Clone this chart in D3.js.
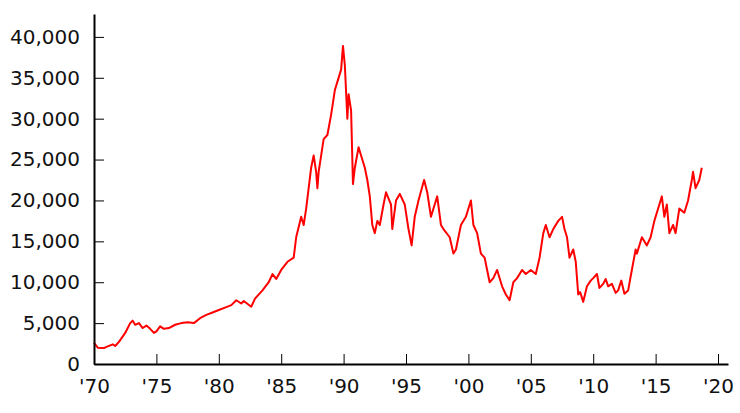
<!DOCTYPE html>
<html><head><meta charset="utf-8">
<script src="https://cdn.jsdelivr.net/npm/d3@7"></script>
<style>body{margin:0;background:#fff}</style>
</head><body><svg id="chart" width="740" height="413"></svg>
<script>
// year (decimal) and index level
var years = [1970.0,1970.3,1970.8,1971.0,1971.5,1971.7,1972.0,1972.5,1972.9,1973.1,1973.3,1973.6,1973.9,1974.2,1974.5,1974.8,1975.0,1975.3,1975.6,1976.0,1976.5,1977.0,1977.5,1978.0,1978.5,1979.0,1979.5,1980.0,1980.5,1981.0,1981.4,1981.8,1982.0,1982.6,1982.9,1983.5,1984.0,1984.3,1984.6,1985.0,1985.5,1986.0,1986.2,1986.6,1986.8,1987.0,1987.4,1987.6,1987.8,1987.9,1988.0,1988.4,1988.7,1989.0,1989.3,1989.5,1989.8,1989.95,1990.1,1990.3,1990.4,1990.6,1990.75,1990.9,1991.2,1991.4,1991.7,1991.9,1992.1,1992.3,1992.5,1992.7,1992.9,1993.2,1993.4,1993.8,1993.9,1994.2,1994.5,1994.9,1995.2,1995.45,1995.7,1996.0,1996.45,1996.7,1997.0,1997.3,1997.5,1997.8,1998.0,1998.5,1998.8,1999.0,1999.4,1999.8,2000.2,2000.4,2000.7,2001.0,2001.3,2001.7,2002.0,2002.3,2002.7,2003.0,2003.3,2003.6,2003.9,2004.3,2004.6,2005.0,2005.4,2005.7,2006.0,2006.2,2006.5,2006.8,2007.2,2007.5,2007.7,2007.9,2008.1,2008.4,2008.6,2008.8,2008.95,2009.2,2009.5,2009.8,2010.0,2010.3,2010.5,2010.8,2011.0,2011.2,2011.5,2011.8,2012.0,2012.25,2012.5,2012.8,2013.0,2013.4,2013.5,2013.9,2014.3,2014.6,2014.9,2015.3,2015.5,2015.7,2015.9,2016.1,2016.4,2016.6,2016.9,2017.3,2017.6,2017.9,2018.0,2018.2,2018.5,2018.7];
var values = [2600,2000,1950,2100,2400,2200,2700,3800,5000,5300,4800,5000,4400,4700,4300,3800,4000,4600,4300,4400,4800,5000,5100,5000,5600,6000,6300,6600,6900,7200,7800,7400,7700,7000,8000,9000,10000,11000,10400,11500,12500,13000,15500,18000,17000,19000,24000,25500,23500,21500,23500,27500,28000,30500,33500,34500,36000,38900,36500,30000,33000,31000,22000,24000,26500,25500,24000,22500,20500,17000,16000,17500,17000,19500,21000,19500,16500,20000,20800,19500,16500,14500,18000,20000,22500,21000,18000,19500,20500,17000,16500,15500,13500,14000,17000,18000,20000,17000,16000,13500,13000,10000,10500,11500,9500,8500,7800,10000,10500,11500,11000,11500,11000,13000,16000,17000,15500,16500,17500,18000,16500,15500,13000,14000,12500,8500,8800,7600,9500,10200,10500,11000,9300,9800,10400,9500,9800,8700,9000,10200,8600,9000,10700,14000,13500,15500,14500,15500,17500,19500,20500,18000,19500,16000,17000,16000,19000,18500,20000,22500,23500,21500,22500,24000];
var xTicks = [1970,1975,1980,1985,1990,1995,2000,2005,2010,2015,2020];
var yTicks = [0,5000,10000,15000,20000,25000,30000,35000,40000];

var svg = d3.select('#chart');
var x = d3.scaleLinear().domain([1970, 2020.8]).range([94, 728]);
var y = d3.scaleLinear().domain([0, 42800]).range([364, 14]);
var pts = years.map(function (d, i) { return [d, values[i]]; });

svg.append('path')
    .datum(pts)
    .attr('d', d3.line().x(function (d) { return x(d[0]); }).y(function (d) { return y(d[1]); }))
    .style('fill', 'none')
    .style('stroke', '#f00')
    .style('stroke-width', 2)
    .style('stroke-linejoin', 'round');

var yAxis = svg.append('g')
    .attr('transform', 'translate(94,0)')
    .call(d3.axisRight(y).tickValues(yTicks).tickSize(10).tickSizeOuter(0).tickFormat(d3.format(',')));
yAxis.selectAll('text').attr('x', -14).style('text-anchor', 'end');

var xAxis = svg.append('g')
    .attr('transform', 'translate(0,364)')
    .call(d3.axisTop(x).tickValues(xTicks).tickSize(10).tickSizeOuter(0)
        .tickFormat(function (d) { return "'" + String(d).slice(2); }));
xAxis.selectAll('text').attr('y', 29).attr('dy', 0);

svg.selectAll('.domain').style('stroke', '#000').style('stroke-width', 2);
svg.selectAll('.tick line').style('stroke', '#000').style('stroke-width', 1);
svg.selectAll('.tick text')
    .style('font-family', 'DejaVu Sans')
    .style('font-size', '20px')
    .style('fill', '#111');
</script></body></html>
